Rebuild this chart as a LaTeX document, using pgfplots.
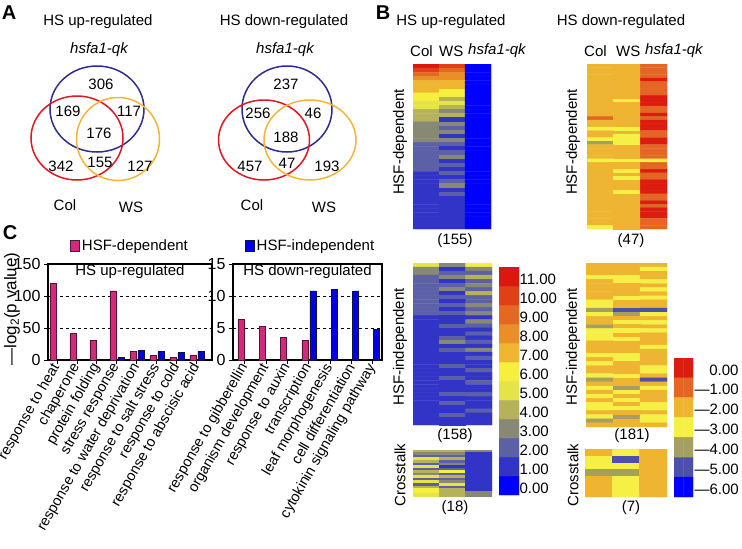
\documentclass[border=0pt]{standalone}
\usepackage{pgfplots}
\pgfplotsset{compat=1.18}
\usepackage{fontspec}
\setmainfont{Liberation Sans}

\definecolor{vennblue}{RGB}{45,45,140}
\definecolor{vennred}{RGB}{222,25,35}
\definecolor{vennyellow}{RGB}{240,182,55}
\definecolor{depfill}{RGB}{212,40,122}
\definecolor{depedge}{RGB}{85,20,50}
\definecolor{indfill}{RGB}{0,0,225}
\definecolor{indedge}{RGB}{15,15,80}

\newcommand{\fs}{\fontsize{15}{18}\selectfont}
\newcommand{\fc}{\fontsize{14.5}{17}\selectfont}
\newcommand{\ft}{\fontsize{16}{18}\selectfont}
\newcommand{\fl}{\fontsize{20}{22}\selectfont\bfseries}

\pgfplotsset{
  colormap={upmap}{rgb255=(0,0,255) rgb255=(50,52,200) rgb255=(92,96,166) rgb255=(136,136,118)
    rgb255=(182,178,92) rgb255=(228,228,72) rgb255=(248,238,62) rgb255=(240,182,50)
    rgb255=(234,142,40) rgb255=(228,104,34) rgb255=(224,64,24) rgb255=(220,24,14)},
  colormap={downmap}{rgb255=(220,28,14) rgb255=(228,102,36) rgb255=(238,180,50)
    rgb255=(246,240,70) rgb255=(166,160,96) rgb255=(76,80,170) rgb255=(0,0,255)},
  heat/.style={scale only axis, hide axis, anchor=north west, y dir=reverse,
    xmin=-0.5, xmax=2.5, colormap access=direct, point meta=explicit},
  bars/.style={scale only axis, anchor=south west, height=96pt, ybar, bar width=6pt,
    tick pos=left, tick align=outside, major tick length=4pt,
    axis line style={line width=1.2pt}, tick style={line width=1pt, black},
    ymajorgrids, grid style={dashed, black, line width=0.6pt},
    /pgf/number format/assume math mode=true,
    yticklabel style={font=\ft},
    xticklabel style={font=\fc, rotate=60, anchor=east, inner sep=1pt},
    xtick={0,...,7}},
}

\begin{document}
\begin{tikzpicture}[x=1pt, y=-1pt]
\useasboundingbox (0,0) rectangle (742,549);

% ---------------- A: Venn diagrams
\node[font=\fl] at (9,13) {A};
\node[font=\fs] at (98,22) {HS up-regulated};
\node[font=\fs\itshape] at (99,50) {hsfa1-qk};
\draw[vennblue, line width=1.5pt] (97,109) ellipse [x radius=47, y radius=43];
\draw[vennred, line width=1.5pt] (77,138) ellipse [x radius=46, y radius=42];
\draw[vennyellow, line width=1.5pt] (118,139) ellipse [x radius=41.5, y radius=41.5];
\begin{scope}[every node/.style={font=\fs}]
\node at (101,84) {306};
\node at (68,111) {169};
\node at (129,111) {117};
\node at (99,133) {176};
\node at (61,166) {342};
\node at (100,162) {155};
\node at (140,166) {127};
\node at (65,205) {Col};
\node at (131,207) {WS};
\end{scope}

\node[font=\fs] at (284,22) {HS down-regulated};
\node[font=\fs\itshape] at (285,50) {hsfa1-qk};
\draw[vennblue, line width=1.5pt] (287,109) ellipse [x radius=45, y radius=43];
\draw[vennred, line width=1.5pt] (264,140) ellipse [x radius=45.5, y radius=40];
\draw[vennyellow, line width=1.5pt] (310,140) ellipse [x radius=46, y radius=40];
\begin{scope}[every node/.style={font=\fs}]
\node at (286,84) {237};
\node at (258,113) {256};
\node at (313,113) {46};
\node at (286,137) {188};
\node at (250,166) {457};
\node at (287,163) {47};
\node at (327,166) {193};
\node at (252,205) {Col};
\node at (324,207) {WS};
\end{scope}

% ---------------- B: heatmaps
\node[font=\fl] at (383,13) {B};
\node[font=\fs] at (451,22) {HS up-regulated};
\node[font=\fs] at (621,22) {HS down-regulated};
\node[font=\fs, anchor=west, inner sep=0pt] at (410,51) {Col};
\node[font=\fs, anchor=west, inner sep=0pt] at (439,51) {WS};
\node[font=\fs\itshape, anchor=west, inner sep=0pt] at (468,51) {hsfa1-qk};
\node[font=\fs, anchor=west, inner sep=0pt] at (584,51) {Col};
\node[font=\fs, anchor=west, inner sep=0pt] at (616,51) {WS};
\node[font=\fs\itshape, anchor=west, inner sep=0pt] at (645,51) {hsfa1-qk};

\node[font=\fs, rotate=90] at (400,142) {HSF-dependent};
\node[font=\fs, rotate=90] at (573,142) {HSF-dependent};
\node[font=\fs, rotate=90] at (400,347) {HSF-independent};
\node[font=\fs, rotate=90] at (573,347) {HSF-independent};
\node[font=\fs, rotate=90] at (400,475) {Crosstalk};
\node[font=\fs, rotate=90] at (573,475) {Crosstalk};
\node[font=\fs] at (455,241) {(155)};
\node[font=\fs] at (631,241) {(47)};
\node[font=\fs] at (455,436) {(158)};
\node[font=\fs] at (632,436) {(181)};
\node[font=\fs] at (455,508) {(18)};
\node[font=\fs] at (631,508) {(7)};

% up-regulated, HSF-dependent (155 genes, shown as 40 rows)
\begin{axis}[heat, at={(413pt,-64pt)}, width=78pt, height=165pt,
  ymin=-0.5, ymax=39.5, colormap name=upmap]
\addplot[matrix plot*, mesh/cols=3] coordinates {
(0,0)[11] (1,0)[10] (2,0)[0]
(0,1)[10] (1,1)[9] (2,1)[0]
(0,2)[9] (1,2)[8] (2,2)[0]
(0,3)[8] (1,3)[8] (2,3)[0]
(0,4)[7] (1,4)[7] (2,4)[0]
(0,5)[7] (1,5)[7] (2,5)[0]
(0,6)[7] (1,6)[6] (2,6)[0]
(0,7)[6] (1,7)[6] (2,7)[0]
(0,8)[6] (1,8)[4] (2,8)[0]
(0,9)[5] (1,9)[5] (2,9)[0]
(0,10)[5] (1,10)[4] (2,10)[0]
(0,11)[4] (1,11)[3] (2,11)[0]
(0,12)[4] (1,12)[4] (2,12)[0]
(0,13)[4] (1,13)[1] (2,13)[0]
(0,14)[3] (1,14)[3] (2,14)[0]
(0,15)[3] (1,15)[2] (2,15)[0]
(0,16)[3] (1,16)[3] (2,16)[0]
(0,17)[3] (1,17)[1] (2,17)[0]
(0,18)[3] (1,18)[3] (2,18)[0]
(0,19)[2] (1,19)[2] (2,19)[0]
(0,20)[2] (1,20)[1] (2,20)[0]
(0,21)[2] (1,21)[2] (2,21)[0]
(0,22)[2] (1,22)[3] (2,22)[0]
(0,23)[2] (1,23)[1] (2,23)[0]
(0,24)[2] (1,24)[2] (2,24)[0]
(0,25)[2] (1,25)[1] (2,25)[0]
(0,26)[1] (1,26)[2] (2,26)[0]
(0,27)[1] (1,27)[1] (2,27)[0]
(0,28)[1] (1,28)[2] (2,28)[0]
(0,29)[1] (1,29)[3] (2,29)[0]
(0,30)[1] (1,30)[1] (2,30)[0]
(0,31)[1] (1,31)[2] (2,31)[0]
(0,32)[1] (1,32)[1] (2,32)[0]
(0,33)[1] (1,33)[1] (2,33)[0]
(0,34)[1] (1,34)[1] (2,34)[0]
(0,35)[1] (1,35)[1] (2,35)[0]
(0,36)[1] (1,36)[1] (2,36)[0]
(0,37)[1] (1,37)[1] (2,37)[0]
(0,38)[1] (1,38)[1] (2,38)[0]
(0,39)[1] (1,39)[1] (2,39)[0]
};
\end{axis}

% up-regulated, HSF-independent (158 genes, shown as 40 rows)
\begin{axis}[heat, at={(413pt,-263pt)}, width=79pt, height=162pt,
  ymin=-0.5, ymax=39.5, colormap name=upmap]
\addplot[matrix plot*, mesh/cols=3] coordinates {
(0,0)[5] (1,0)[3] (2,0)[6]
(0,1)[3] (1,1)[1] (2,1)[3]
(0,2)[3] (1,2)[2] (2,2)[2]
(0,3)[2] (1,3)[3] (2,3)[4]
(0,4)[2] (1,4)[1] (2,4)[2]
(0,5)[2] (1,5)[2] (2,5)[3]
(0,6)[2] (1,6)[3] (2,6)[2]
(0,7)[2] (1,7)[1] (2,7)[4]
(0,8)[2] (1,8)[2] (2,8)[2]
(0,9)[2] (1,9)[1] (2,9)[2]
(0,10)[2] (1,10)[2] (2,10)[3]
(0,11)[2] (1,11)[1] (2,11)[2]
(0,12)[2] (1,12)[2] (2,12)[3]
(0,13)[1] (1,13)[1] (2,13)[1]
(0,14)[1] (1,14)[1] (2,14)[3]
(0,15)[1] (1,15)[2] (2,15)[2]
(0,16)[1] (1,16)[1] (2,16)[1]
(0,17)[1] (1,17)[1] (2,17)[2]
(0,18)[1] (1,18)[2] (2,18)[1]
(0,19)[1] (1,19)[3] (2,19)[2]
(0,20)[1] (1,20)[1] (2,20)[1]
(0,21)[1] (1,21)[2] (2,21)[3]
(0,22)[1] (1,22)[1] (2,22)[1]
(0,23)[1] (1,23)[1] (2,23)[2]
(0,24)[1] (1,24)[1] (2,24)[1]
(0,25)[1] (1,25)[2] (2,25)[1]
(0,26)[1] (1,26)[1] (2,26)[2]
(0,27)[1] (1,27)[1] (2,27)[1]
(0,28)[1] (1,28)[2] (2,28)[1]
(0,29)[1] (1,29)[1] (2,29)[2]
(0,30)[1] (1,30)[1] (2,30)[1]
(0,31)[1] (1,31)[1] (2,31)[1]
(0,32)[1] (1,32)[2] (2,32)[2]
(0,33)[1] (1,33)[1] (2,33)[1]
(0,34)[1] (1,34)[2] (2,34)[1]
(0,35)[1] (1,35)[1] (2,35)[1]
(0,36)[1] (1,36)[1] (2,36)[2]
(0,37)[1] (1,37)[2] (2,37)[1]
(0,38)[1] (1,38)[1] (2,38)[1]
(0,39)[1] (1,39)[1] (2,39)[1]
};
\end{axis}

% up-regulated, crosstalk (18 genes)
\begin{axis}[heat, at={(413pt,-450pt)}, width=79pt, height=46pt,
  ymin=-0.5, ymax=17.5, colormap name=upmap]
\addplot[matrix plot*, mesh/cols=3] coordinates {
(0,0)[4] (1,0)[4] (2,0)[3]
(0,1)[3] (1,1)[3] (2,1)[1]
(0,2)[2] (1,2)[2] (2,2)[1]
(0,3)[5] (1,3)[4] (2,3)[1]
(0,4)[4] (1,4)[2] (2,4)[1]
(0,5)[2] (1,5)[3] (2,5)[1]
(0,6)[5] (1,6)[1] (2,6)[1]
(0,7)[2] (1,7)[2] (2,7)[1]
(0,8)[4] (1,8)[6] (2,8)[1]
(0,9)[3] (1,9)[2] (2,9)[1]
(0,10)[5] (1,10)[4] (2,10)[1]
(0,11)[2] (1,11)[2] (2,11)[1]
(0,12)[5] (1,12)[3] (2,12)[1]
(0,13)[2] (1,13)[5] (2,13)[1]
(0,14)[4] (1,14)[2] (2,14)[1]
(0,15)[6] (1,15)[4] (2,15)[1]
(0,16)[6] (1,16)[4] (2,16)[3]
(0,17)[5] (1,17)[4] (2,17)[3]
};
\end{axis}

% down-regulated, HSF-dependent (47 genes)
\begin{axis}[heat, at={(587pt,-64pt)}, width=80pt, height=165pt,
  ymin=-0.5, ymax=46.5, colormap name=downmap]
\addplot[matrix plot*, mesh/cols=3] coordinates {
(0,0)[2] (1,0)[2] (2,0)[1]
(0,1)[2] (1,1)[2] (2,1)[1]
(0,2)[2] (1,2)[2] (2,2)[1]
(0,3)[2] (1,3)[2] (2,3)[1]
(0,4)[2] (1,4)[2] (2,4)[0]
(0,5)[2] (1,5)[2] (2,5)[1]
(0,6)[2] (1,6)[2] (2,6)[1]
(0,7)[2] (1,7)[2] (2,7)[1]
(0,8)[2] (1,8)[2] (2,8)[1]
(0,9)[2] (1,9)[2] (2,9)[0]
(0,10)[2] (1,10)[3] (2,10)[0]
(0,11)[2] (1,11)[2] (2,11)[0]
(0,12)[2] (1,12)[2] (2,12)[1]
(0,13)[2] (1,13)[2] (2,13)[1]
(0,14)[2] (1,14)[2] (2,14)[0]
(0,15)[1] (1,15)[2] (2,15)[1]
(0,16)[2] (1,16)[2] (2,16)[0]
(0,17)[2] (1,17)[2] (2,17)[0]
(0,18)[3] (1,18)[3] (2,18)[0]
(0,19)[2] (1,19)[2] (2,19)[1]
(0,20)[2] (1,20)[3] (2,20)[1]
(0,21)[3] (1,21)[3] (2,21)[0]
(0,22)[4] (1,22)[3] (2,22)[0]
(0,23)[2] (1,23)[2] (2,23)[1]
(0,24)[2] (1,24)[2] (2,24)[1]
(0,25)[2] (1,25)[2] (2,25)[1]
(0,26)[2] (1,26)[2] (2,26)[1]
(0,27)[3] (1,27)[3] (2,27)[3]
(0,28)[2] (1,28)[2] (2,28)[1]
(0,29)[2] (1,29)[2] (2,29)[1]
(0,30)[2] (1,30)[3] (2,30)[0]
(0,31)[2] (1,31)[2] (2,31)[1]
(0,32)[2] (1,32)[3] (2,32)[1]
(0,33)[2] (1,33)[2] (2,33)[0]
(0,34)[2] (1,34)[2] (2,34)[0]
(0,35)[2] (1,35)[2] (2,35)[0]
(0,36)[2] (1,36)[3] (2,36)[0]
(0,37)[2] (1,37)[2] (2,37)[1]
(0,38)[2] (1,38)[2] (2,38)[1]
(0,39)[2] (1,39)[2] (2,39)[0]
(0,40)[2] (1,40)[2] (2,40)[1]
(0,41)[2] (1,41)[2] (2,41)[0]
(0,42)[2] (1,42)[2] (2,42)[0]
(0,43)[2] (1,43)[2] (2,43)[0]
(0,44)[2] (1,44)[2] (2,44)[1]
(0,45)[2] (1,45)[2] (2,45)[1]
(0,46)[3] (1,46)[2] (2,46)[1]
};
\end{axis}

% down-regulated, HSF-independent (181 genes, shown as 40 rows)
\begin{axis}[heat, at={(586pt,-263pt)}, width=81pt, height=164pt,
  ymin=-0.5, ymax=39.5, colormap name=downmap]
\addplot[matrix plot*, mesh/cols=3] coordinates {
(0,0)[2] (1,0)[2] (2,0)[2]
(0,1)[2] (1,1)[2] (2,1)[3]
(0,2)[2] (1,2)[2] (2,2)[2]
(0,3)[3] (1,3)[3] (2,3)[2]
(0,4)[2] (1,4)[3] (2,4)[3]
(0,5)[2] (1,5)[2] (2,5)[2]
(0,6)[2] (1,6)[2] (2,6)[3]
(0,7)[2] (1,7)[2] (2,7)[2]
(0,8)[2] (1,8)[3] (2,8)[3]
(0,9)[3] (1,9)[2] (2,9)[2]
(0,10)[3] (1,10)[2] (2,10)[2]
(0,11)[4] (1,11)[5] (2,11)[5]
(0,12)[3] (1,12)[4] (2,12)[3]
(0,13)[2] (1,13)[2] (2,13)[2]
(0,14)[2] (1,14)[3] (2,14)[3]
(0,15)[4] (1,15)[2] (2,15)[2]
(0,16)[3] (1,16)[3] (2,16)[3]
(0,17)[3] (1,17)[2] (2,17)[2]
(0,18)[3] (1,18)[3] (2,18)[2]
(0,19)[2] (1,19)[2] (2,19)[2]
(0,20)[2] (1,20)[2] (2,20)[3]
(0,21)[2] (1,21)[2] (2,21)[2]
(0,22)[3] (1,22)[3] (2,22)[2]
(0,23)[2] (1,23)[3] (2,23)[2]
(0,24)[3] (1,24)[2] (2,24)[2]
(0,25)[2] (1,25)[2] (2,25)[3]
(0,26)[2] (1,26)[2] (2,26)[3]
(0,27)[3] (1,27)[3] (2,27)[2]
(0,28)[4] (1,28)[2] (2,28)[5]
(0,29)[2] (1,29)[2] (2,29)[2]
(0,30)[3] (1,30)[4] (2,30)[3]
(0,31)[2] (1,31)[3] (2,31)[2]
(0,32)[3] (1,32)[2] (2,32)[2]
(0,33)[2] (1,33)[3] (2,33)[2]
(0,34)[3] (1,34)[2] (2,34)[3]
(0,35)[3] (1,35)[3] (2,35)[3]
(0,36)[2] (1,36)[2] (2,36)[2]
(0,37)[3] (1,37)[4] (2,37)[3]
(0,38)[4] (1,38)[2] (2,38)[3]
(0,39)[2] (1,39)[2] (2,39)[2]
};
\end{axis}

% down-regulated, crosstalk (7 genes)
\begin{axis}[heat, at={(585pt,-449pt)}, width=82pt, height=48pt,
  ymin=-0.5, ymax=6.5, colormap name=downmap]
\addplot[matrix plot*, mesh/cols=3] coordinates {
(0,0)[2] (1,0)[3] (2,0)[2]
(0,1)[3] (1,1)[5] (2,1)[2]
(0,2)[3] (1,2)[3] (2,2)[2]
(0,3)[4] (1,3)[4] (2,3)[2]
(0,4)[2] (1,4)[3] (2,4)[2]
(0,5)[2] (1,5)[3] (2,5)[2]
(0,6)[2] (1,6)[3] (2,6)[2]
};
\end{axis}

% colour keys
\begin{axis}[scale only axis, anchor=north west, at={(499pt,-267pt)}, width=20pt, height=228pt,
  xmin=-0.5, xmax=1.5, ymin=-0.5, ymax=11.5, axis line style={draw=none}, xtick=\empty,
  ytick={0,...,11}, yticklabels={0.00,1.00,2.00,3.00,4.00,5.00,6.00,7.00,8.00,9.00,10.00,11.00},
  yticklabel pos=right, major tick length=0pt,
  yticklabel style={font=\fs, anchor=west, xshift=-3pt, yshift=-3pt},
  colormap name=upmap, colormap access=direct, point meta=explicit]
\addplot[matrix plot*, mesh/cols=2] coordinates {
(0,0)[0] (1,0)[0] (0,1)[1] (1,1)[1] (0,2)[2] (1,2)[2] (0,3)[3] (1,3)[3]
(0,4)[4] (1,4)[4] (0,5)[5] (1,5)[5] (0,6)[6] (1,6)[6] (0,7)[7] (1,7)[7]
(0,8)[8] (1,8)[8] (0,9)[9] (1,9)[9] (0,10)[10] (1,10)[10] (0,11)[11] (1,11)[11]
};
\end{axis}

\begin{axis}[scale only axis, anchor=north west, at={(674pt,-358pt)}, width=19pt, height=139pt,
  y dir=reverse, xmin=-0.5, xmax=1.5, ymin=-0.5, ymax=6.5, axis line style={draw=none}, xtick=\empty,
  ytick={0,...,6},
  yticklabels={\mbox{0.00},\mbox{\textemdash 1.00},\mbox{\textemdash 2.00},\mbox{\textemdash 3.00},
    \mbox{\textemdash 4.00},\mbox{\textemdash 5.00},\mbox{\textemdash 6.00}},
  yticklabel pos=right, major tick length=0pt,
  yticklabel style={font=\fs, anchor=west, xshift=-2pt, yshift=-2pt, text width=44pt, align=right},
  colormap name=downmap, colormap access=direct, point meta=explicit]
\addplot[matrix plot*, mesh/cols=2] coordinates {
(0,0)[0] (1,0)[0] (0,1)[1] (1,1)[1] (0,2)[2] (1,2)[2] (0,3)[3] (1,3)[3]
(0,4)[4] (1,4)[4] (0,5)[5] (1,5)[5] (0,6)[6] (1,6)[6]
};
\end{axis}

% ---------------- C: GO enrichment bars
\node[font=\fl] at (10,233) {C};
\node[font=\fontsize{17}{19}\selectfont, rotate=90] at (12,309) {\textemdash log\textsubscript{2}(p value)};

\begin{axis}[bars, at={(48pt,-360pt)}, width=164pt,
  xmin=-0.45, xmax=7.75, ymin=0, ymax=150, ytick={0,50,100,150},
  xticklabels={response to heat, chaperone, protein folding, stress response,
    response to water deprivation, response to salt stress, response to cold,
    response to abscisic acid},
  legend columns=-1,
  legend style={at={(0.134,1.1875)}, anchor=west, draw=none, fill=none, font=\fs,
    inner sep=0pt, /tikz/every even column/.append style={column sep=55pt}},
  legend image code/.code={\draw[#1, line width=0.8pt] (0pt,-5.5pt) rectangle (9pt,5.5pt);}]
\addplot[fill=depfill, draw=depedge, line width=0.7pt, bar shift=-4pt]
  coordinates {(0,119) (1,42) (2,31) (3,108) (4,14) (5,6.5) (6,4.5) (7,8)};
\addlegendentry{HSF-dependent}
\addplot[fill=indfill, draw=indedge, line width=0.7pt, bar shift=4pt]
  coordinates {(3,4.5) (4,14.5) (5,13) (6,11.5) (7,14)};
\addlegendentry{HSF-independent}
\node[font=\fs] at (rel axis cs:0.5,0.917) {HS up-regulated};
\end{axis}

\begin{axis}[bars, at={(233pt,-360pt)}, width=149pt,
  xmin=-0.563, xmax=6.43, ymin=0, ymax=15, ytick={0,5,10,15},
  xticklabels={response to gibberellin, organism development, response to auxin,
    transcription, leaf morphogenesis, cell differentiation, cytokinin signaling pathway}]
\addplot[fill=depfill, draw=depedge, line width=0.7pt, bar shift=-4pt]
  coordinates {(0,6.35) (1,5.2) (2,3.55) (3,3.1)};
\addplot[fill=indfill, draw=indedge, line width=0.7pt, bar shift=4pt]
  coordinates {(3,10.8) (4,11.0) (5,10.8) (6,4.8)};
\node[font=\fs] at (rel axis cs:0.5,0.917) {HS down-regulated};
\end{axis}

\end{tikzpicture}
\end{document}
